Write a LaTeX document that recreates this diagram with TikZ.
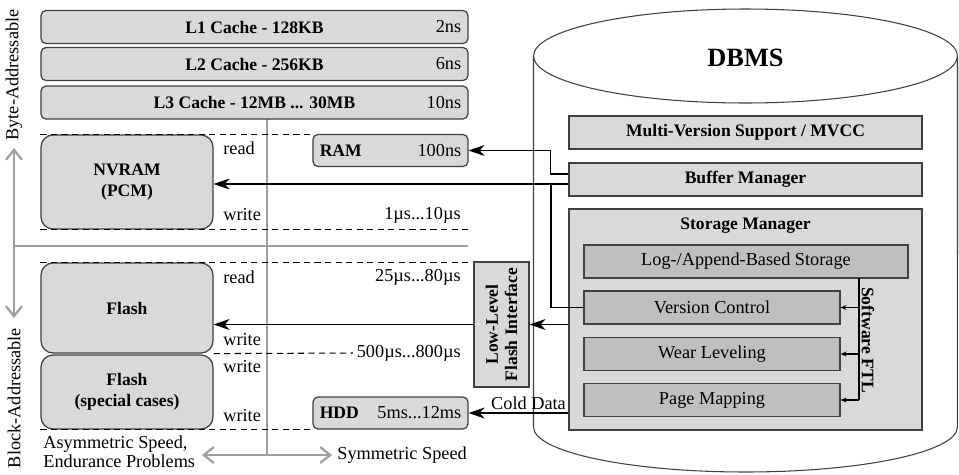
\documentclass[tikz,border=0pt]{standalone}
\usepackage{fontspec}
\setmainfont{Liberation Serif}
\usepackage{xcolor}
\usetikzlibrary{arrows.meta, positioning}

\definecolor{lightfill}{HTML}{D9D9D9}
\definecolor{darkfill}{HTML}{BFBFBF}
\definecolor{edgegray}{HTML}{404040}
\definecolor{axisgray}{HTML}{A0A0A0}

\begin{document}
\begin{tikzpicture}[x=0.02cm, y=-0.02cm, font=\fontsize{10.4}{12}\selectfont,
  box/.style={draw=edgegray, line width=0.7pt, fill=lightfill, inner sep=0pt},
  cache/.style={box, rounded corners=0.1cm, minimum width=8.54cm, minimum height=0.66cm, font=\bfseries},
  small mem/.style={box, rounded corners=0.1cm, minimum width=3.1cm, minimum height=0.64cm},
  mem/.style={box, rounded corners=0.24cm, minimum width=3.44cm, font=\bfseries, align=center},
  layer/.style={box, minimum width=7.06cm, minimum height=0.66cm, font=\bfseries},
  ftl box/.style={box, fill=darkfill, minimum width=5.12cm, minimum height=0.66cm},
  lbl/.style={inner sep=0pt},
  time/.style={inner sep=0pt, anchor=east},
  sep/.style={line width=0.6pt, dash pattern=on 3.5pt off 2.5pt},
  axis/.style={draw=axisgray, line width=1.1pt},
  axis arrow/.style={axis, {Straight Barb[length=0.2cm, width=0.32cm, line width=1.3pt]}-{Straight Barb[length=0.2cm, width=0.32cm, line width=1.3pt]}},
  flow/.style={line width=0.6pt, -{Stealth[length=0.32cm, width=0.22cm, inset=0.1cm]}},
  ftl arrow/.style={line width=0.6pt, -{Stealth[length=0.12cm, width=0.1cm, inset=0.04cm]}}]

  \useasboundingbox (0,0) rectangle (959,474);

  % gray guides
  \draw[axis] (14,246) -- (468,246);
  \draw[axis arrow] (14,148) -- (14,318);
  \draw[axis] (267,119) -- (267,455);
  \draw[axis arrow] (202,455) -- (332,455);
  \node[lbl, rotate=90] (byte) at (14,75) {Byte-Addressable};
  \node[lbl, rotate=90] (block) at (14,398) {Block-Addressable};
  \node[lbl, anchor=west, align=left] (asym) at (43,452) {Asymmetric Speed,\\[-1pt]Endurance Problems};
  \node[lbl, anchor=west] (sym) at (337,455) {Symmetric Speed};

  % DBMS cylinder
  \draw[edgegray, line width=0.6pt, fill=white] (533.5,56) -- (533.5,427)
    arc[start angle=180, end angle=360, x radius=4.24cm, y radius=0.9cm] -- (957.5,56);
  \draw[edgegray, line width=0.6pt, fill=white] (745.5,56) ellipse [x radius=4.24cm, y radius=0.94cm];
  \node[font=\fontsize{15}{18}\selectfont\bfseries] (dbms) at (745.5,58) {DBMS};

  % caches
  \node[cache] (l1) at (254.5,27) {L1 Cache - 128KB};
  \node[time] (l1t) at ([xshift=-0.14cm]l1.east) {2ns};
  \node[cache] (l2) at (254.5,64) {L2 Cache - 256KB};
  \node[time] (l2t) at ([xshift=-0.14cm]l2.east) {6ns};
  \node[cache] (l3) at (254.5,102.5) {L3 Cache - 12MB ... 30MB};
  \node[time] (l3t) at ([xshift=-0.14cm]l3.east) {10ns};

  % memory / storage devices
  \node[mem, minimum height=1.88cm] (nvram) at (127,182) {NVRAM\\(PCM)};
  \node[mem, minimum height=1.8cm] (flash) at (127,308) {Flash};
  \node[mem, minimum height=1.48cm] (flashsc) at (127,392) {Flash\\(special cases)};
  \node[small mem] (ram) at (390.5,150.5) {};
  \node[lbl, anchor=west, font=\bfseries] (ramlbl) at ([xshift=0.14cm]ram.west) {RAM};
  \node[time] (ramt) at ([xshift=-0.14cm]ram.east) {100ns};
  \node[small mem] (hdd) at (390.5,413) {};
  \node[lbl, anchor=west, font=\bfseries] (hddlbl) at ([xshift=0.14cm]hdd.west) {HDD};
  \node[time] (hddt) at ([xshift=-0.14cm]hdd.east) {5ms...12ms};

  % read / write latencies
  \node[time] (nvwt) at (461,215) {1µs...10µs};
  \node[time] (flrt) at (461,277) {25µs...80µs};
  \node[time] (flwt) at (461,353) {500µs...800µs};
  \draw[sep] (nvram.north west) -- (ram.west |- nvram.north);
  \draw[sep] (nvram.south west) -- (nvram.south -| ram.east);
  \draw[sep] (flash.north west) -- (flash.north -| ram.east);
  \draw[sep] (flash.south east) -- ([xshift=-2pt]flwt.west);
  \draw[sep] (flashsc.south west) -- (flashsc.south -| hdd.west);
  \foreach \y/\t in {148/read, 215/write, 277/read, 340/write, 367/write, 416/write}
    \node[lbl, anchor=west] at (223,\y) {\t};

  % DBMS layers
  \node[layer] (mvcc) at (745.5,132.5) {Multi-Version Support / MVCC};
  \node[layer] (buf) at (745.5,179.5) {Buffer Manager};
  \node[layer, minimum height=4.42cm] (stor) at (745.5,319.5) {};
  \node[lbl, font=\bfseries] (storlbl) at (745.5,226) {Storage Manager};
  \node[ftl box, minimum width=6.48cm] (log) at (746,261.5) {Log-/Append-Based Storage};
  \node[ftl box] (vc) at (712,307.5) {Version Control};
  \node[ftl box] (wl) at (712,354) {Wear Leveling};
  \node[ftl box] (pm) at (712,400) {Page Mapping};

  % software FTL
  \coordinate (ftl) at (859,278);
  \draw[line width=0.6pt] (ftl) -- (ftl |- pm.east);
  \foreach \n in {vc, wl, pm}
    \draw[ftl arrow] (ftl |- \n.east) -- (\n.east);
  \node[lbl, rotate=-90, font=\bfseries] (ftllbl) at (868,340) {Software FTL};

  % flash interface
  \node[box, minimum width=1.1cm, minimum height=2.5cm] (llfi) at (501.5,324.5) {};
  \node[lbl, rotate=90, font=\bfseries, align=center] (llfilbl) at (llfi.center) {Low-Level\\[-1pt]Flash Interface};

  % data paths
  \coordinate (bufout) at ([yshift=-0.09cm]buf.west);
  \coordinate (join) at (551,184);
  \draw[flow] ([yshift=0.11cm]buf.west) -- ++(-0.36cm,0) |- (ram.east);
  \draw[flow] (bufout) -- (bufout -| nvram.east);
  \draw[line width=0.6pt] (vc.west) -| (join);
  \draw[flow] (stor.west |- llfi.east) -- (llfi.east);
  \draw[flow] (llfi.west) -- (llfi.west -| flash.east);
  \draw[flow] (stor.west |- hdd.east) -- node[pos=0.4, above, inner sep=1.5pt] {Cold Data} (hdd.east);
\end{tikzpicture}
\end{document}
